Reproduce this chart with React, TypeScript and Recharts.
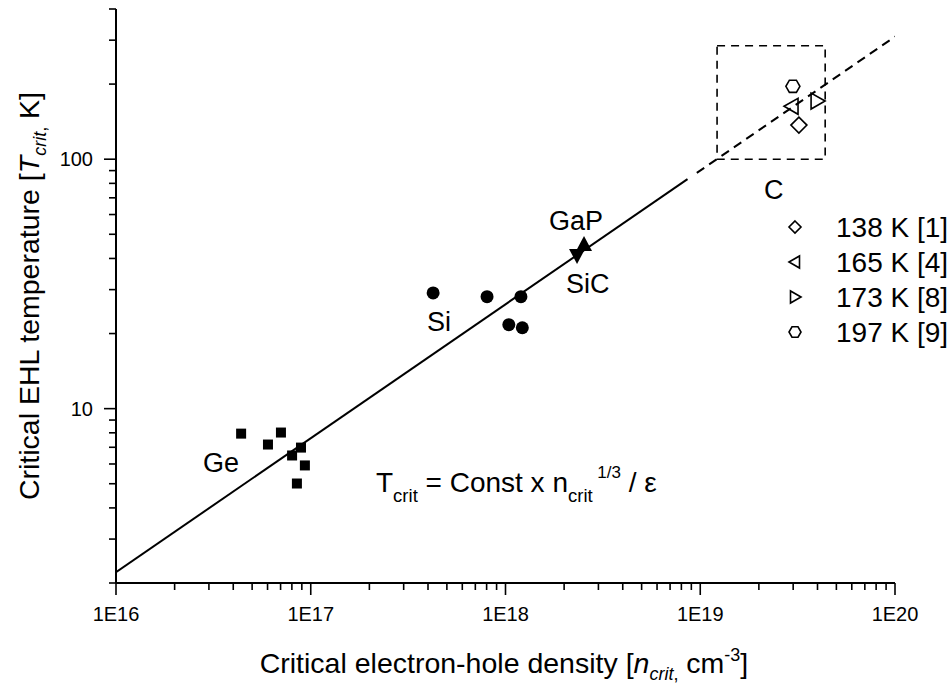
import React from 'react'
import { ComposedChart, Scatter, XAxis, YAxis, ReferenceArea } from 'recharts'

// critical density (cm^-3) vs critical temperature (K)
const GE = [
  { n: 4.39e16, t: 7.94 },
  { n: 6.03e16, t: 7.18 },
  { n: 7.03e16, t: 8.02 },
  { n: 8.02e16, t: 6.49 },
  { n: 8.91e16, t: 6.98 },
  { n: 9.33e16, t: 5.92 },
  { n: 8.49e16, t: 5.01 },
]
const SI = [
  { n: 4.25e17, t: 29.1 },
  { n: 8.04e17, t: 28.1 },
  { n: 1.2e18, t: 28.1 },
  { n: 1.04e18, t: 21.7 },
  { n: 1.22e18, t: 21.1 },
]
const GAP = [{ n: 2.53e18, t: 45.3 }]
const SIC = [{ n: 2.33e18, t: 41.3 }]
const C_138 = [{ n: 3.21e19, t: 137 }]
const C_165 = [{ n: 2.96e19, t: 163 }]
const C_173 = [{ n: 3.98e19, t: 171 }]
const C_197 = [{ n: 2.99e19, t: 196 }]

// fit line, solid part and extrapolated dashed part
const FIT_SOLID = [
  { n: 1e16, t: 2.21 },
  { n: 8.6e18, t: 83.2 },
]
const FIT_DASHED = [
  { n: 9.6e18, t: 88.1 },
  { n: 1e20, t: 310 },
]

// dashed box round the diamond points
const BOX = { n1: 1.22e19, n2: 4.38e19, t1: 100, t2: 285 }

const LEGEND = ['138 K [1]', '165 K [4]', '173 K [8]', '197 K [9]']

const X_DECADES = [1e16, 1e17, 1e18, 1e19]
const STEPS = [1, 2, 3, 4, 5, 6, 7, 8, 9]
const X_TICKS = [...X_DECADES.flatMap((d) => STEPS.map((s) => s * d)), 1e20]
const Y_TICKS = [2, 3, 4, 5, 6, 7, 8, 9, 10, 20, 30, 40, 50, 60, 70, 80, 90, 100, 200, 300, 400]

const FONT = '"Liberation Sans", Arial, sans-serif'

const isDecade = (v: number) => Math.abs(Math.log10(v) - Math.round(Math.log10(v))) < 1e-6

const XTick = (props: any) => {
  const { x, y, payload } = props
  const major = isDecade(payload.value)
  return (
    <g>
      <line x1={x} x2={x} y1={y} y2={y + (major ? 12 : 7)} stroke="#000" strokeWidth={1.6} />
      {major && (
        <text x={x} y={y + 38} textAnchor="middle" fontSize={20} fill="#000" fontFamily={FONT}>
          {'1E' + Math.round(Math.log10(payload.value))}
        </text>
      )}
    </g>
  )
}

const YTick = (props: any) => {
  const { x, y, payload } = props
  const v = payload.value
  const major = v === 10 || v === 100
  return (
    <g>
      <line x1={x} x2={x - (major ? 12 : 7)} y1={y} y2={y} stroke="#000" strokeWidth={1.6} />
      {major && (
        <text x={x - 23} y={y + 7} textAnchor="end" fontSize={20} fill="#000" fontFamily={FONT}>
          {v}
        </text>
      )}
    </g>
  )
}

const Square = ({ cx, cy }: any) => <rect x={cx - 5} y={cy - 5} width={10} height={10} fill="#000" />
const Dot = ({ cx, cy }: any) => <circle cx={cx} cy={cy} r={6.5} fill="#000" />
const TriUp = ({ cx, cy }: any) => (
  <polygon points={`${cx},${cy - 9} ${cx + 8},${cy + 6} ${cx - 8},${cy + 6}`} fill="#000" />
)
const TriDown = ({ cx, cy }: any) => (
  <polygon points={`${cx},${cy + 9} ${cx + 8},${cy - 6} ${cx - 8},${cy - 6}`} fill="#000" />
)

const open = { fill: 'none', stroke: '#000', strokeWidth: 1.6 }
const Diamond = ({ cx, cy, r = 8 }: any) => (
  <polygon points={`${cx},${cy - r} ${cx + r},${cy} ${cx},${cy + r} ${cx - r},${cy}`} {...open} />
)
const TriLeft = ({ cx, cy, r = 8 }: any) => (
  <polygon points={`${cx - r},${cy} ${cx + r * 0.75},${cy - r} ${cx + r * 0.75},${cy + r}`} {...open} />
)
const TriRight = ({ cx, cy, r = 8 }: any) => (
  <polygon points={`${cx + r},${cy} ${cx - r * 0.75},${cy - r} ${cx - r * 0.75},${cy + r}`} {...open} />
)
const Hexagon = ({ cx, cy, r = 7 }: any) => {
  const pts = [0, 1, 2, 3, 4, 5]
    .map((i) => {
      const a = (Math.PI / 3) * i
      return `${cx + r * Math.cos(a)},${cy + r * Math.sin(a)}`
    })
    .join(' ')
  return <polygon points={pts} {...open} />
}

const NoDot = () => <g />

const LEGEND_SHAPES = [Diamond, TriLeft, TriRight, Hexagon]

export default function App() {
  return (
    <div style={{ position: 'relative', width: 952, height: 684, fontFamily: FONT, background: '#fff' }}>
      <style>{'body{margin:0}'}</style>
      <ComposedChart width={952} height={684} margin={{ top: 9, right: 57, bottom: 41, left: 56 }}>
        <XAxis
          dataKey="n"
          type="number"
          scale="log"
          domain={[1e16, 1e20]}
          allowDataOverflow
          ticks={X_TICKS}
          interval={0}
          height={60}
          tickSize={0}
          tickMargin={0}
          tickLine={false}
          tick={<XTick />}
          axisLine={{ stroke: '#000', strokeWidth: 2 }}
        />
        <YAxis
          dataKey="t"
          type="number"
          scale="log"
          domain={[2, 400]}
          allowDataOverflow
          ticks={Y_TICKS}
          interval={0}
          width={60}
          tickSize={0}
          tickMargin={0}
          tickLine={false}
          tick={<YTick />}
          axisLine={{ stroke: '#000', strokeWidth: 2 }}
        />
        <ReferenceArea
          x1={BOX.n1}
          x2={BOX.n2}
          y1={BOX.t1}
          y2={BOX.t2}
          fill="none"
          fillOpacity={0}
          stroke="#000"
          strokeWidth={1.6}
          strokeDasharray="8 6"
          ifOverflow="visible"
        />
        <Scatter data={FIT_SOLID} line={{ stroke: '#000', strokeWidth: 2 }} shape={NoDot} isAnimationActive={false} />
        <Scatter
          data={FIT_DASHED}
          line={{ stroke: '#000', strokeWidth: 2, strokeDasharray: '9 6' }}
          shape={NoDot}
          isAnimationActive={false}
        />
        <Scatter data={GE} shape={(p: any) => <Square {...p} />} isAnimationActive={false} />
        <Scatter data={SI} shape={(p: any) => <Dot {...p} />} isAnimationActive={false} />
        <Scatter data={GAP} shape={(p: any) => <TriUp {...p} />} isAnimationActive={false} />
        <Scatter data={SIC} shape={(p: any) => <TriDown {...p} />} isAnimationActive={false} />
        <Scatter data={C_138} shape={(p: any) => <Diamond cx={p.cx} cy={p.cy} />} isAnimationActive={false} />
        <Scatter data={C_165} shape={(p: any) => <TriLeft cx={p.cx} cy={p.cy} />} isAnimationActive={false} />
        <Scatter data={C_173} shape={(p: any) => <TriRight cx={p.cx} cy={p.cy} />} isAnimationActive={false} />
        <Scatter data={C_197} shape={(p: any) => <Hexagon cx={p.cx} cy={p.cy} />} isAnimationActive={false} />
      </ComposedChart>

      <svg
        width={952}
        height={684}
        style={{ position: 'absolute', left: 0, top: 0, pointerEvents: 'none' }}
        fontFamily={FONT}
        fill="#000"
      >
        <text x={203} y={472} fontSize={27}>Ge</text>
        <text x={427} y={331} fontSize={27}>Si</text>
        <text x={549} y={230} fontSize={27}>GaP</text>
        <text x={566} y={293} fontSize={27}>SiC</text>
        <text x={764} y={199} fontSize={27}>C</text>

        {LEGEND.map((label, i) => {
          const Shape = LEGEND_SHAPES[i]
          const cy = 227 + i * 35
          return (
            <g key={label}>
              <Shape cx={795} cy={cy} r={6} />
              <text x={836} y={cy + 10} fontSize={28}>{label}</text>
            </g>
          )
        })}

        <text x={376} y={492} fontSize={28}>
          T<tspan fontSize={18.5} dy={10}>crit</tspan>
          <tspan dy={-10}> = Const x n</tspan>
          <tspan fontSize={18.5} dy={10}>crit</tspan>
          <tspan fontSize={17} dy={-24}> 1/3</tspan>
          <tspan dy={14}> / ε</tspan>
        </text>

        <text x={504} y={673} fontSize={28.5} textAnchor="middle">
          Critical electron-hole density [<tspan fontStyle="italic">n</tspan>
          <tspan fontStyle="italic" fontSize={18} dy={7}>crit</tspan>
          <tspan fontSize={18}>,</tspan>
          <tspan dy={-7}> cm</tspan>
          <tspan fontSize={18} dy={-12}>-3</tspan>
          <tspan dy={12}>]</tspan>
        </text>

        <text transform="translate(39,296) rotate(-90)" fontSize={28.5} textAnchor="middle">
          Critical EHL temperature [<tspan fontStyle="italic">T</tspan>
          <tspan fontStyle="italic" fontSize={18} dy={7}>crit</tspan>
          <tspan fontSize={18}>,</tspan>
          <tspan dy={-7}> K]</tspan>
        </text>
      </svg>
    </div>
  )
}
